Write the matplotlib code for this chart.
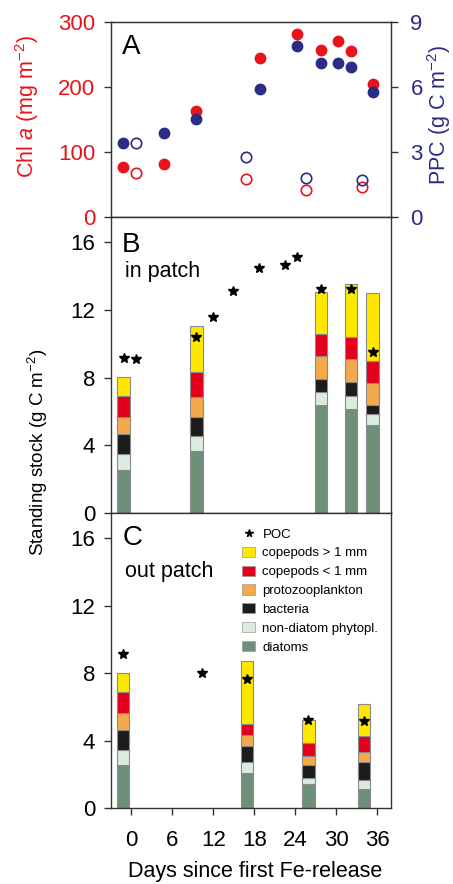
import matplotlib
matplotlib.use("Agg")
import matplotlib.pyplot as plt
from matplotlib.patches import Patch
from matplotlib.lines import Line2D
import numpy as np

plt.rcParams['font.family'] = ['Liberation Sans', 'DejaVu Sans']
plt.rcParams['mathtext.fontset'] = 'custom'
plt.rcParams['mathtext.rm'] = 'Liberation Sans'
plt.rcParams['mathtext.it'] = 'Liberation Sans:italic'

# ---- Panel A data ----
chl_fill_day = [-1.2, 4.8, 9.4, 18.8, 24.2, 27.8, 30.3, 32.1, 35.4]
chl_fill = [77, 81, 163, 244, 282, 257, 271, 255, 205]
chl_open_day = [0.7, 16.8, 25.5, 33.8]
chl_open = [68, 59, 42, 46]
ppc_fill_day = [-1.2, 4.8, 9.4, 18.8, 24.2, 27.8, 30.3, 32.1, 35.4]
ppc_fill = [3.40, 3.86, 4.51, 5.91, 7.87, 7.13, 7.10, 6.92, 5.79]
ppc_open_day = [0.7, 16.8, 25.5, 33.8]
ppc_open = [3.41, 2.76, 1.79, 1.70]

# ---- Panel B (in patch) ----
b_days = [-1.15, 9.5, 27.8, 32.1, 35.3]
b_diatoms = [2.53, 3.67, 6.38, 6.12, 5.21]
b_nondiatom = [0.93, 0.87, 0.79, 0.79, 0.62]
b_bacteria = [1.20, 1.11, 0.75, 0.81, 0.55]
b_protozoo = [0.99, 1.22, 1.36, 1.37, 1.28]
b_cop_small = [1.28, 1.45, 1.31, 1.30, 1.35]
b_cop_large = [1.13, 2.76, 2.45, 3.16, 3.99]
b_poc_day = [-1.15, 0.6, 9.5, 11.9, 14.8, 18.7, 22.5, 24.3, 27.8, 32.1, 35.3]
b_poc = [9.15, 9.11, 10.39, 11.61, 13.12, 14.46, 14.66, 15.13, 13.25, 13.25, 9.54]

# ---- Panel C (out patch) ----
c_days = [-1.2, 16.9, 25.9, 34.0]
c_diatoms = [2.53, 2.09, 1.40, 1.15]
c_nondiatom = [0.89, 0.62, 0.40, 0.53]
c_bacteria = [1.20, 0.94, 0.77, 1.05]
c_protozoo = [1.01, 0.70, 0.53, 0.57]
c_cop_small = [1.26, 0.65, 0.73, 0.99]
c_cop_large = [1.13, 3.71, 1.42, 1.89]
c_poc_day = [-1.2, 10.3, 16.9, 25.9, 34.0]
c_poc = [9.11, 8.02, 7.66, 5.25, 5.16]

xticks = [0, 6, 12, 18, 24, 30, 36]

RED = '#e8141c'
NAVY = '#2b2c84'
comp_names = ['diatoms', 'non-diatom phytopl.', 'bacteria', 'protozooplankton',
              'copepods < 1 mm', 'copepods > 1 mm']
comp_colors = ['#6e907a', '#dcebe0', '#1c1c1c', '#f4a94c', '#e2001a', '#ffe800']
SPINE = '#333333'

W, H = 453, 884
fig = plt.figure(figsize=(W / 100, H / 100), dpi=100)

def fy(py):
    return 1 - py / H

left = 111 / W
width = (391 - 111) / W
axA = fig.add_axes([left, fy(217), width, fy(22) - fy(217)])
axB = fig.add_axes([left, fy(513), width, fy(217) - fy(513)])
axC = fig.add_axes([left, fy(808), width, fy(513) - fy(808)])

TICKFS = 16
for ax in (axA, axB, axC):
    ax.set_xlim(-3, 38)
    ax.set_xticks(xticks)
    for s in ax.spines.values():
        s.set_color(SPINE)
        s.set_linewidth(1.0)
    ax.tick_params(direction='out', length=5, width=1, color=SPINE, labelsize=TICKFS)
    ax.tick_params(axis='y', pad=6.5)
    ax.tick_params(axis='x', pad=11)
axA.tick_params(labelbottom=False)
axB.tick_params(labelbottom=False)

# Panel A
axA.set_ylim(0, 300)
axA.set_yticks([0, 100, 200, 300])
axA.tick_params(axis='y', labelcolor=RED)
ms = 7.5
axA.plot(chl_fill_day, chl_fill, 'o', color=RED, ms=ms, zorder=3)
axA.plot(chl_open_day, chl_open, 'o', mfc='white', mec=RED, mew=1.2, ms=ms, zorder=3)
axA2 = axA.twinx()
axA2.set_ylim(0, 9)
axA2.set_yticks([0, 3, 6, 9])
for s in axA2.spines.values():
    s.set_color(SPINE)
axA2.tick_params(direction='out', length=5, width=1, color=SPINE, labelsize=TICKFS,
                 labelcolor=NAVY, pad=9)
axA2.plot(ppc_fill_day, ppc_fill, 'o', color=NAVY, ms=ms, zorder=4)
axA2.plot(ppc_open_day, ppc_open, 'o', mfc='none', mec=NAVY, mew=1.2, ms=ms, zorder=4)
fig.text(27 / W, fy(106.5), 'Chl $a$ (mg m$^{\\mathregular{-2}}$)', color=RED, fontsize=15.5,
         rotation=90, ha='center', va='center')
fig.text(439 / W, fy(115), 'PPC (g C m$^{\\mathregular{-2}}$)', color=NAVY, fontsize=15.5,
         rotation=90, ha='center', va='center')
axA.text(0.04, 0.94, 'A', transform=axA.transAxes, fontsize=20, va='top', ha='left')

def stacked(ax, days, comps):
    bottom = np.zeros(len(days))
    for vals, col in zip(comps, comp_colors):
        ax.bar(days, vals, width=1.8, bottom=bottom, color=col,
               edgecolor='#8a8a8a', linewidth=0.8, zorder=2)
        bottom = bottom + np.array(vals)

for ax in (axB, axC):
    ax.set_ylim(0, 17.5)
    ax.set_yticks([0, 4, 8, 12, 16])

stacked(axB, b_days, [b_diatoms, b_nondiatom, b_bacteria, b_protozoo, b_cop_small, b_cop_large])
axB.plot(b_poc_day, b_poc, '*', color='black', ms=7.5, zorder=4)
axB.text(0.04, 0.948, 'B', transform=axB.transAxes, fontsize=20, va='top', ha='left')
axB.text(0.05, 0.815, 'in patch', transform=axB.transAxes, fontsize=15.5, va='center', ha='left')

stacked(axC, c_days, [c_diatoms, c_nondiatom, c_bacteria, c_protozoo, c_cop_small, c_cop_large])
axC.plot(c_poc_day, c_poc, '*', color='black', ms=7.5, zorder=4)
axC.text(0.04, 0.96, 'C', transform=axC.transAxes, fontsize=20, va='top', ha='left')
axC.text(0.05, 0.80, 'out patch', transform=axC.transAxes, fontsize=15.5, va='center', ha='left')

handles = [Line2D([], [], marker='*', color='black', linestyle='none', ms=5.5)]
labels = ['POC']
for name, col in list(zip(comp_names, comp_colors))[::-1]:
    handles.append(Patch(facecolor=col, edgecolor='#9a9a9a', linewidth=0.5))
    labels.append(name)
axC.legend(handles, labels, loc='upper left', bbox_to_anchor=(0.43, 0.985), frameon=False,
           fontsize=9.5, handlelength=1.0, handleheight=0.8, handletextpad=0.55,
           labelspacing=0.47, borderaxespad=0.4)

fig.text(255.5 / W, fy(872), 'Days since first Fe-release', fontsize=15.5,
         ha='center', va='center')
fig.text(38 / W, fy(452), 'Standing stock (g C m$^{\\mathregular{-2}}$)', rotation=90,
         fontsize=13.5, ha='center', va='center')

fig.savefig('out.png', dpi=100)
